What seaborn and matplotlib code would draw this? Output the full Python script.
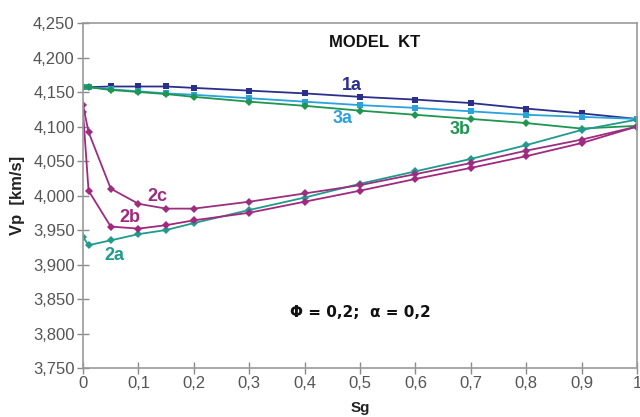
import numpy as np
import pandas as pd
import matplotlib
matplotlib.use("Agg")
import matplotlib.pyplot as plt
import seaborn as sns
from matplotlib.ticker import FuncFormatter

# Gas saturation and P-wave velocity for each model case
sg = [0, 0.01, 0.05, 0.1, 0.15, 0.2, 0.3, 0.4, 0.5, 0.6, 0.7, 0.8, 0.9, 1.0]
vp_1a = [4157, 4157, 4158, 4158, 4158, 4156, 4152, 4148, 4143, 4139, 4134, 4126, 4119, 4111]
vp_3a = [4157, 4157, 4154, 4151, 4148, 4146, 4141, 4136, 4131, 4127, 4122, 4117, 4114, 4111]
vp_3b = [4157, 4157, 4153, 4150, 4147, 4143, 4136, 4130, 4123, 4117, 4111, 4105, 4097, 4101]
vp_2a = [3940, 3928, 3935, 3944, 3950, 3960, 3979, 3997, 4017, 4035, 4053, 4073, 4095, 4110]
vp_2b = [4121, 4007, 3955, 3952, 3957, 3964, 3975, 3991, 4007, 4024, 4040, 4057, 4076, 4100]
vp_2c = [4131, 4092, 4010, 3988, 3981, 3981, 3991, 4003, 4015, 4031, 4047, 4065, 4081, 4100]

series_names = ["1a", "3a", "3b", "2a", "2b", "2c"]
series_values = [vp_1a, vp_3a, vp_3b, vp_2a, vp_2b, vp_2c]

x_ticks = [0, 0.1, 0.2, 0.3, 0.4, 0.5, 0.6, 0.7, 0.8, 0.9, 1.0]
y_ticks = [3750, 3800, 3850, 3900, 3950, 4000, 4050, 4100, 4150, 4200, 4250]

colors = {"1a": "#2b2f8c", "3a": "#2aa2dc", "3b": "#1e9650",
          "2a": "#1f9a8c", "2b": "#a3277f", "2c": "#9a2f80"}
markers = {"1a": "s", "3a": "s", "3b": "D", "2a": "D", "2b": "D", "2c": "D"}

df = pd.DataFrame({
    "Sg": np.tile(sg, len(series_names)),
    "Vp": np.concatenate(series_values),
    "case": np.repeat(series_names, len(sg)),
})

sns.set_theme(style="white")
plt.rcParams["font.family"] = ["Liberation Sans Narrow", "Liberation Sans", "DejaVu Sans"]

fig = plt.figure(figsize=(6.4, 4.17), dpi=100)
ax = fig.add_axes([0.1297, 0.1175, 0.8656, 0.8273])

for name in series_names:
    sub = df[df["case"] == name]
    sns.lineplot(data=sub, x="Sg", y="Vp", ax=ax, color=colors[name],
                 marker=markers[name], markersize=4.5 if markers[name] == "s" else 4,
                 markeredgewidth=0, linewidth=1.3, legend=False)

ax.set_xlim(0, 1)
ax.set_ylim(3750, 4250)
ax.set_xticks(x_ticks)
ax.set_yticks(y_ticks)
ax.xaxis.set_major_formatter(FuncFormatter(lambda v, p: f"{v:g}".replace(".", ",")))
ax.yaxis.set_major_formatter(FuncFormatter(lambda v, p: f"{int(v):,}"))
ax.tick_params(axis="both", direction="inout", length=8, width=1, color="#8a8a8a",
               labelsize=12, labelcolor="#555555", pad=2, left=True, bottom=True)
for s in ax.spines.values():
    s.set_color("#9a9a9a")
    s.set_linewidth(1.2)

ax.set_xlabel("Sg", fontsize=11, fontweight="bold", color="#222222", labelpad=7,
              family=["Liberation Sans", "DejaVu Sans"])
ax.set_ylabel("Vp  [km/s]", fontsize=12, fontweight="bold", color="#222222", labelpad=6,
              family=["Liberation Sans", "DejaVu Sans"])

ax.text(0.527, 4222, "MODEL  KT", fontsize=12, fontweight="bold", color="#111111",
        family=["Liberation Sans", "DejaVu Sans"], va="center", ha="center")
ax.text(0.5, 3830, "\u03a6 = 0,2;  \u03b1 = 0,2", fontsize=11, fontweight="bold",
        color="#111111", family=["Liberation Sans Narrow", "DejaVu Sans"],
        va="center", ha="center")

labels = {"1a": (0.485, 4160), "3a": (0.469, 4112), "3b": (0.68, 4096),
          "2c": (0.135, 3999), "2b": (0.085, 3968), "2a": (0.056, 3913)}
for name, (lx, ly) in labels.items():
    ax.text(lx, ly, name, fontsize=13, fontweight="bold", color=colors[name],
            family=["Liberation Sans", "DejaVu Sans"], va="center", ha="center")

fig.savefig("out.png", dpi=100)
